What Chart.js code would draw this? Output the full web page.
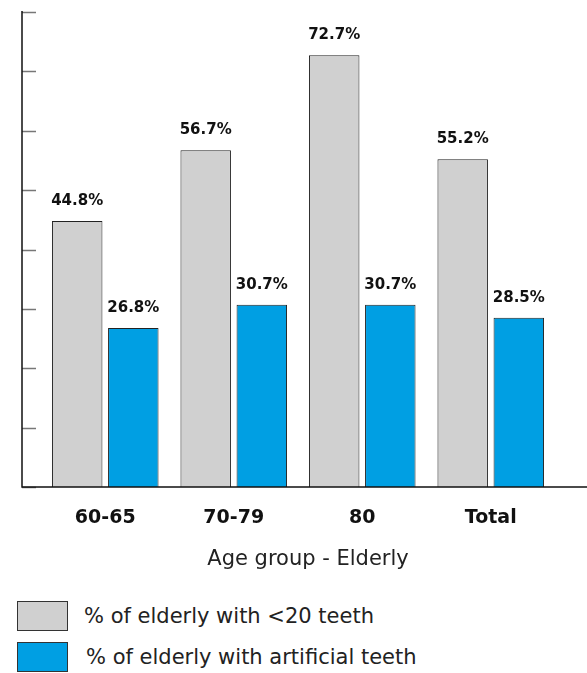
<!DOCTYPE html>
<html>
<head>
<meta charset="utf-8">
<script src="https://cdn.jsdelivr.net/npm/chart.js@4/dist/chart.umd.min.js"></script>
<style>
  body { margin:0; background:#fff; font-family:"DejaVu Sans", sans-serif; }
  #wrap { position:relative; width:587px; height:590px; }
  .legend { position:absolute; left:17px; font-size:21px; color:#222; display:flex; align-items:center; }
  .legend span.box { width:49px; height:28px; border:1px solid #333; margin-right:16px; display:inline-block; }
</style>
</head>
<body>
<div id="wrap"><canvas id="chart"></canvas></div>
<div class="legend" style="top:601px"><span class="box" style="background:#d0d0d0"></span>% of elderly with &lt;20 teeth</div>
<div class="legend" style="top:642px"><span class="box" style="background:#009fe3"></span><span style="margin-left:2px">% of elderly with artificial teeth</span></div>

<script>
const categories = ["60-65", "70-79", "80", "Total"];
const fewTeeth = [44.8, 56.7, 72.7, 55.2];
const artificial = [26.8, 30.7, 30.7, 28.5];
const seriesNames = ["% of elderly with <20 teeth", "% of elderly with artificial teeth"];

/* axis lines, ticks, value labels, axis title */
const decor = {
  id: "decor",
  afterDatasetsDraw(chart) {
    const ctx = chart.ctx;
    const y = chart.scales.y;
    const bottom = chart.chartArea.bottom;
    ctx.save();
    // ticks
    ctx.strokeStyle = "#777";
    ctx.lineWidth = 1.5;
    for (let v = 0; v <= 80; v += 10) {
      const py = Math.round(y.getPixelForValue(v)) + 0.5;
      ctx.beginPath(); ctx.moveTo(22, py); ctx.lineTo(36, py); ctx.stroke();
    }
    // axis lines
    ctx.strokeStyle = "#111";
    ctx.beginPath();
    ctx.moveTo(22, y.getPixelForValue(80) - 1);
    ctx.lineTo(22, bottom);
    ctx.lineTo(587, bottom);
    ctx.stroke();

    // value labels
    ctx.fillStyle = "#111";
    ctx.font = "bold 15px 'DejaVu Sans'";
    ctx.textAlign = "center";
    ctx.textBaseline = "middle";
    chart.data.datasets.forEach((ds, i) => {
      chart.getDatasetMeta(i).data.forEach((bar, j) => {
        ctx.fillText(ds.data[j].toFixed(1) + "%", bar.x, bar.y - 20);
      });
    });

    // axis title
    ctx.font = "21px 'DejaVu Sans'";
    ctx.fillStyle = "#222";
    ctx.fillText("Age group - Elderly", 308, 560);
    ctx.restore();
  }
};

new Chart(document.getElementById("chart"), {
  type: "bar",
  data: {
    labels: categories,
    datasets: [
      { label: seriesNames[0], data: fewTeeth, backgroundColor: "#d0d0d0", borderColor: "#222", borderWidth: 1 },
      { label: seriesNames[1], data: artificial, backgroundColor: "#009fe3", borderColor: "#222", borderWidth: 1 }
    ]
  },
  options: {
    responsive: true,
    maintainAspectRatio: false,
    animation: false,
    categoryPercentage: 0.873,
    barPercentage: 0.9,
    layout: { padding: { left: 41, right: 32, top: 12, bottom: 0 } },
    plugins: { legend: { display: false }, tooltip: { enabled: false } },
    scales: {
      x: {
        grid: { display: false, drawTicks: false },
        border: { display: false },
        ticks: { color: "#111", font: { family: "DejaVu Sans", size: 19, weight: "bold" }, padding: 20 },
        afterFit(scale) { scale.height = 103; }
      },
      y: { display: false, min: 0, max: 80 }
    }
  },
  plugins: [decor]
});
</script>
</body>
</html>
